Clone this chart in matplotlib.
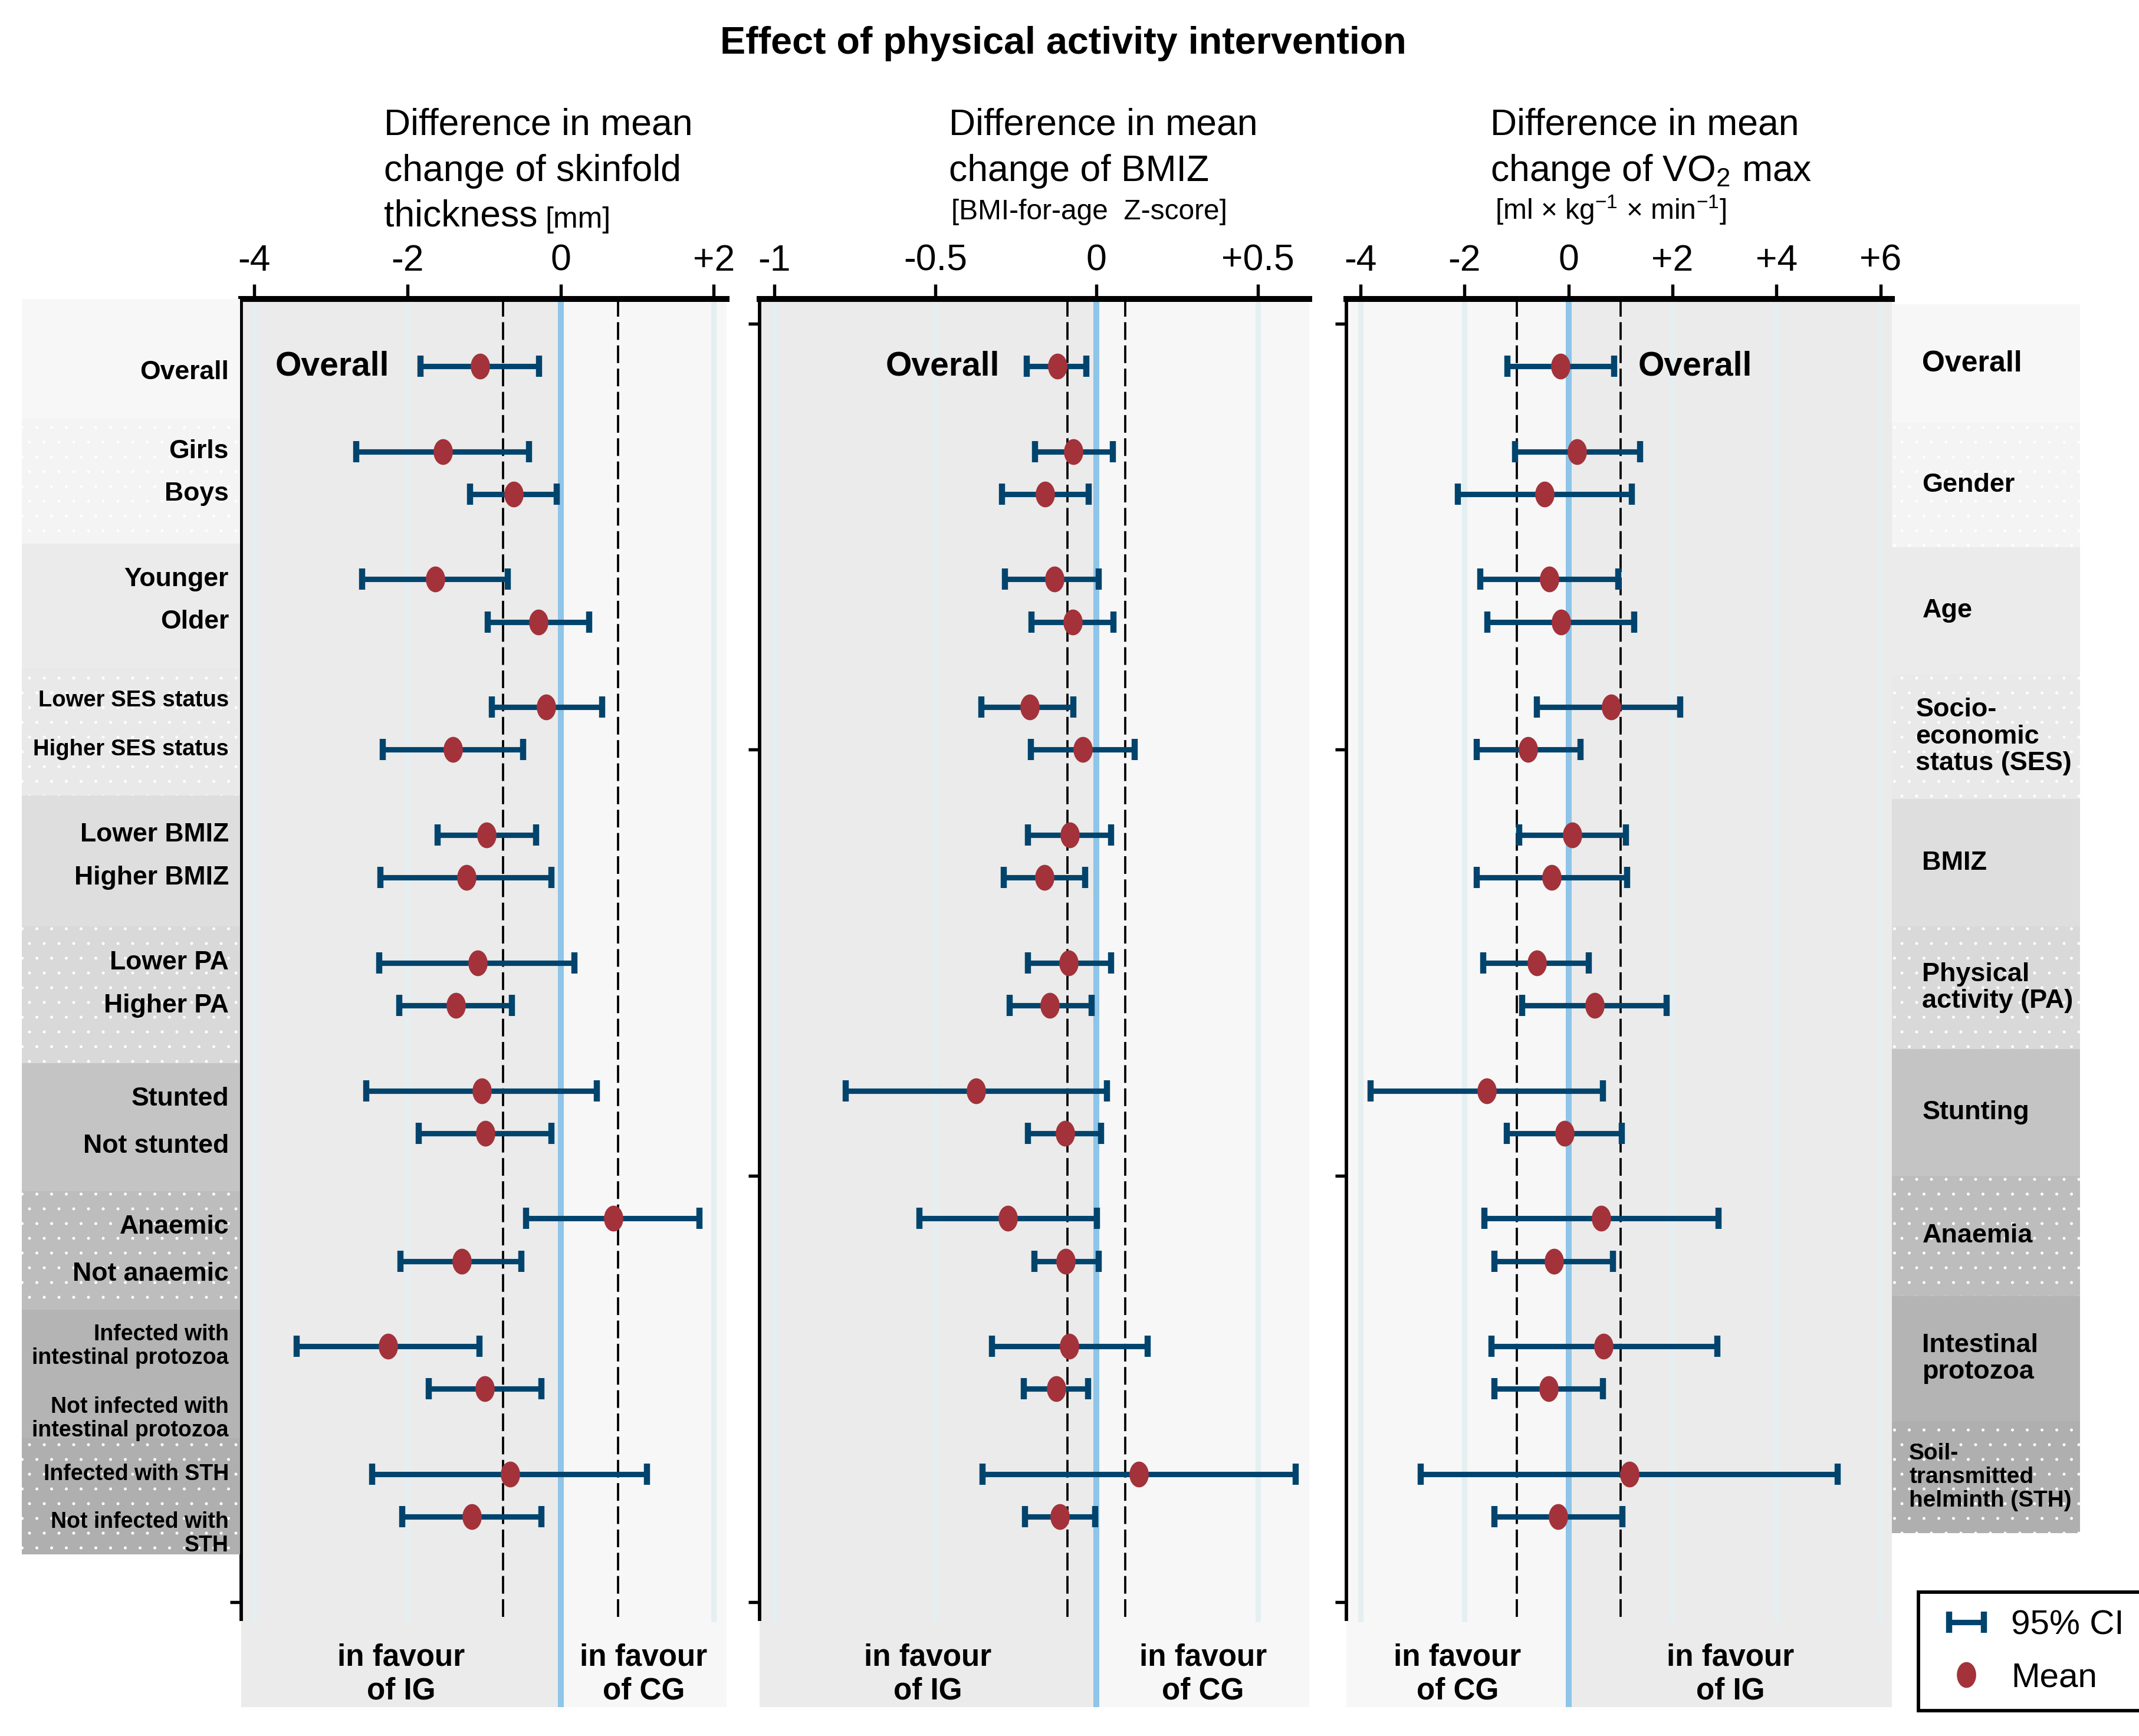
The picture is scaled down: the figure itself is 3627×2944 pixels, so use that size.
import matplotlib
matplotlib.use('Agg')
import matplotlib.pyplot as plt
import numpy as np
from matplotlib.path import Path
from matplotlib.patches import Rectangle

plt.rcParams['font.family'] = ['Liberation Sans', 'DejaVu Sans']
plt.rcParams['mathtext.fontset'] = 'custom'
plt.rcParams['mathtext.rm'] = 'Liberation Sans'
plt.rcParams['mathtext.it'] = 'Liberation Sans:italic'
plt.rcParams['mathtext.bf'] = 'Liberation Sans:bold'
plt.rcParams['hatch.linewidth'] = 0.0

# ---- data ----
row_labels = ['Overall', 'Girls', 'Boys', 'Younger', 'Older',
              'Lower SES status', 'Higher SES status', 'Lower BMIZ', 'Higher BMIZ',
              'Lower PA', 'Higher PA', 'Stunted', 'Not stunted', 'Anaemic', 'Not anaemic',
              'Infected with\nintestinal protozoa', 'Not infected with\nintestinal protozoa',
              'Infected with STH', 'Not infected with\nSTH']
row_pos = [1, 3, 4, 6, 7, 9, 10, 12, 13, 15, 16, 18, 19, 21, 22, 24, 25, 27, 28]

group_labels = ['Overall', 'Gender', 'Age', 'Socio-\neconomic\nstatus (SES)', 'BMIZ',
                'Physical\nactivity (PA)', 'Stunting', 'Anaemia', 'Intestinal\nprotozoa',
                'Soil-\ntransmitted\nhelminth (STH)']

skin_mean = [-1.05, -1.54, -0.61, -1.64, -0.29, -0.19, -1.41, -0.97, -1.23, -1.08,
             -1.37, -1.03, -0.98, 0.69, -1.29, -2.25, -0.99, -0.66, -1.16]
skin_lo = [-1.83, -2.67, -1.18, -2.59, -0.95, -0.90, -2.32, -1.61, -2.35, -2.37,
           -2.11, -2.54, -1.85, -0.45, -2.09, -3.45, -1.72, -2.46, -2.07]
skin_hi = [-0.28, -0.41, -0.05, -0.69, 0.37, 0.54, -0.49, -0.32, -0.12, 0.18,
           -0.64, 0.47, -0.12, 1.81, -0.51, -1.06, -0.25, 1.13, -0.25]

bmiz_mean = [-0.122, -0.071, -0.159, -0.130, -0.074, -0.207, -0.043, -0.082, -0.161, -0.086,
             -0.145, -0.374, -0.098, -0.274, -0.095, -0.085, -0.125, 0.132, -0.113]
bmiz_lo = [-0.217, -0.190, -0.294, -0.284, -0.201, -0.358, -0.203, -0.212, -0.288, -0.212,
           -0.270, -0.778, -0.212, -0.549, -0.193, -0.325, -0.226, -0.353, -0.222]
bmiz_hi = [-0.032, 0.051, -0.024, 0.006, 0.053, -0.072, 0.119, 0.046, -0.035, 0.046,
           -0.015, 0.033, 0.015, 0.001, 0.006, 0.159, -0.026, 0.617, -0.004]

vo2_mean = [-0.16, 0.16, -0.46, -0.37, -0.14, 0.82, -0.78, 0.07, -0.32, -0.61,
            0.50, -1.57, -0.08, 0.63, -0.28, 0.67, -0.38, 1.17, -0.20]
vo2_lo = [-1.18, -1.03, -2.13, -1.70, -1.56, -0.61, -1.77, -0.95, -1.77, -1.64,
          -0.89, -3.81, -1.19, -1.62, -1.42, -1.48, -1.43, -2.84, -1.42]
vo2_hi = [0.875, 1.38, 1.22, 0.96, 1.26, 2.15, 0.23, 1.10, 1.13, 0.39,
          1.89, 0.66, 1.03, 2.88, 0.85, 2.86, 0.66, 5.17, 1.04]

skin_ticks = [-4, -2, 0, 2]
skin_ticklabels = ['-4', '-2', '0', '+2']
bmiz_ticks = [-1, -0.5, 0, 0.5]
bmiz_ticklabels = ['-1', '-0.5', '0', '+0.5']
vo2_ticks = [-4, -2, 0, 2, 4, 6]
vo2_ticklabels = ['-4', '-2', '0', '+2', '+4', '+6']

skin_mid = [-0.75, 0.75]
bmiz_mid = [-0.09, 0.09]
vo2_mid = [-1.0, 1.0]

# ---- style ----
ci_color = '#00446d'
mean_color = '#a3323a'
dark_bg = '#ebebeb'
light_bg = '#f7f7f7'
grid_color = '#e5eff1'
zero_color = '#8ec5e8'

y_top, y_bottom, spine_end = -0.58, 32.47, 30.4

band_colors = ['#f7f7f7', '#f4f4f4', '#ebebeb', '#e9e9e9', '#dedede',
               '#d9d9d9', '#c4c4c4', '#bdbdbd', '#b4b4b4', '#afafaf']
band_dotted = [False, True, False, True, False, True, False, True, False, True]
left_edges = [-0.58, 2.23, 5.17, 8.09, 11.07, 14.14, 17.36, 20.36, 23.14, 26.16, 28.88]
right_edges = [-0.45, 2.33, 5.25, 8.22, 11.16, 14.15, 17.02, 20.0, 22.82, 25.76, 28.38]

t = np.linspace(0, 2 * np.pi, 60)
ellipse = Path(np.column_stack([0.72 * np.cos(t), np.sin(t)]), closed=True)

fig = plt.figure(figsize=(3627 / 300, 2944 / 300), dpi=300)

ax1 = fig.add_axes([0.1128, 0.0166, 0.2270, 0.8112])
ax2 = fig.add_axes([0.3551, 0.0166, 0.2570, 0.8112])
ax3 = fig.add_axes([0.6295, 0.0166, 0.2550, 0.8112])


def draw_panel(ax, mean, lo, hi, xlim, ticks, ticklabels, mid, ig_left):
    mean, lo, hi = np.array(mean), np.array(lo), np.array(hi)
    ax.set_xlim(xlim)
    ax.set_ylim(y_bottom, y_top)
    ax.axvspan(xlim[0], 0, color=dark_bg if ig_left else light_bg, lw=0, zorder=0)
    ax.axvspan(0, xlim[1], color=light_bg if ig_left else dark_bg, lw=0, zorder=0)
    for tk in ticks:
        ax.plot([tk, tk], [y_top, spine_end], color=grid_color, lw=2.2, zorder=1)
    ax.axvline(0, color=zero_color, lw=2.4, zorder=1.5)
    for m in mid:
        ax.plot([m, m], [y_top, spine_end], color='black', lw=0.9,
                dashes=(8, 2.5), zorder=2)
    eb = ax.errorbar(mean, row_pos, xerr=[mean - lo, hi - mean], fmt='none',
                     ecolor=ci_color, elinewidth=2.2, capsize=4.3, capthick=2.5, zorder=3)
    pts, = ax.plot(mean, row_pos, ls='none', marker=ellipse, ms=9.5,
                   color=mean_color, zorder=4)

    ax.spines['right'].set_visible(False)
    ax.spines['bottom'].set_visible(False)
    ax.spines['top'].set_linewidth(2.4)
    ax.spines['left'].set_linewidth(1.4)
    ax.spines['left'].set_bounds(y_top, spine_end)
    ax.xaxis.tick_top()
    ax.set_xticks(ticks)
    ax.set_xticklabels(ticklabels, fontsize=15)
    ax.tick_params(axis='x', length=6, width=1.3, pad=2.5)
    ax.set_yticks([0, 10, 20, 30])
    ax.set_yticklabels([])
    ax.tick_params(axis='y', length=4.5, width=1.3)

    favour_l = 'in favour\nof IG' if ig_left else 'in favour\nof CG'
    favour_r = 'in favour\nof CG' if ig_left else 'in favour\nof IG'
    ax.text(xlim[0] / 2, 31.7, favour_l, ha='center', va='center',
            fontsize=12.3, weight='bold')
    ax.text(xlim[1] / 2, 31.7, favour_r, ha='center', va='center',
            fontsize=12.3, weight='bold')
    return eb, pts


eb, pts = draw_panel(ax1, skin_mean, skin_lo, skin_hi, (-4.17, 2.17),
                     skin_ticks, skin_ticklabels, skin_mid, True)
draw_panel(ax2, bmiz_mean, bmiz_lo, bmiz_hi, (-1.045, 0.66),
           bmiz_ticks, bmiz_ticklabels, bmiz_mid, True)
draw_panel(ax3, vo2_mean, vo2_lo, vo2_hi, (-4.27, 6.22),
           vo2_ticks, vo2_ticklabels, vo2_mid, False)

ax1.text(-3.73, row_pos[0], 'Overall', ha='left', va='center', fontsize=13.7, weight='bold', zorder=5)
ax2.text(-0.30, row_pos[0], 'Overall', ha='right', va='center', fontsize=13.7, weight='bold', zorder=5)
ax3.text(1.34, row_pos[0], 'Overall', ha='left', va='center', fontsize=13.7, weight='bold', zorder=5)

# ---- subgroup labels on the left ----
axl = fig.add_axes([0.01026, 0.0166, 0.1019, 0.8112])
axl.set_xlim(0, 1)
axl.set_ylim(y_bottom, y_top)
axl.axis('off')
for i, c in enumerate(band_colors):
    axl.add_patch(Rectangle((0, left_edges[i]), 1, left_edges[i + 1] - left_edges[i],
                            facecolor=c, edgecolor='white', lw=0,
                            hatch='..' if band_dotted[i] else None))
label_sizes = [10.7] * 5 + [9.2, 9.2] + [10.7] * 8 + [9, 9, 9, 9]
label_shift = [0.15, 0, 0, 0, 0, -0.15, 0, 0, 0, 0, 0, 0.2, 0.3, 0.2, 0.3, 0, 0.7, 0, 0.4]
for lab, y, s, d in zip(row_labels, row_pos, label_sizes, label_shift):
    axl.text(0.949, y + d, lab, ha='right', va='center', fontsize=s, weight='bold',
             linespacing=1.15)

# ---- group labels on the right ----
axr = fig.add_axes([0.8846, 0.0166, 0.0878, 0.8112])
axr.set_xlim(0, 1)
axr.set_ylim(y_bottom, y_top)
axr.axis('off')
group_sizes = [12, 10.8, 10.8, 10.8, 10.8, 10.8, 10.8, 10.8, 10.8, 9.3]
group_x = [0.16, 0.16, 0.16, 0.125, 0.16, 0.16, 0.16, 0.16, 0.16, 0.09]
for i, c in enumerate(band_colors):
    axr.add_patch(Rectangle((0, right_edges[i]), 1, right_edges[i + 1] - right_edges[i],
                            facecolor=c, edgecolor='white', lw=0,
                            hatch='..' if band_dotted[i] else None))
    axr.text(group_x[i], (right_edges[i] + right_edges[i + 1]) / 2, group_labels[i],
             ha='left', va='center', fontsize=group_sizes[i], weight='bold',
             linespacing=1.15)

# ---- titles ----
fig.text(0.4971, 0.969, 'Effect of physical activity intervention', ha='center',
         va='baseline', fontsize=15.5, weight='bold')

fig.text(0.1795, 0.9224, 'Difference in mean', fontsize=15, va='baseline')
fig.text(0.1795, 0.8957, 'change of skinfold', fontsize=15, va='baseline')
t_thick = fig.text(0.1795, 0.8698, 'thickness', fontsize=15, va='baseline')
ax1.annotate('[mm]', xy=(1, 0), xycoords=t_thick, xytext=(3, 0),
             textcoords='offset points', va='bottom', fontsize=12,
             annotation_clip=False)

fig.text(0.4436, 0.9224, 'Difference in mean', fontsize=15, va='baseline')
fig.text(0.4436, 0.8957, 'change of BMIZ', fontsize=15, va='baseline')
fig.text(0.4447, 0.8736, '[BMI-for-age  Z-score]', fontsize=11.5, va='baseline')

fig.text(0.6968, 0.9224, 'Difference in mean', fontsize=15, va='baseline')
fig.text(0.6968, 0.8957, 'change of VO$_2$ max', fontsize=15, va='baseline')
fig.text(0.6990, 0.8736, '[ml × kg$^{\\mathregular{-1}}$ × min$^{\\mathregular{-1}}$]',
         fontsize=11.5, va='baseline')

# ---- legend ----
leg = fig.legend([eb, pts], ['95% CI', 'Mean'], loc='upper left',
                 bbox_to_anchor=(0.8968, 0.0829), borderaxespad=0, fontsize=14,
                 frameon=True, fancybox=False, edgecolor='black', framealpha=1,
                 handlelength=1.8, handletextpad=0.4, borderpad=0.5, labelspacing=0.6)
leg.get_frame().set_linewidth(1.4)

fig.savefig('out.png', dpi=300)
